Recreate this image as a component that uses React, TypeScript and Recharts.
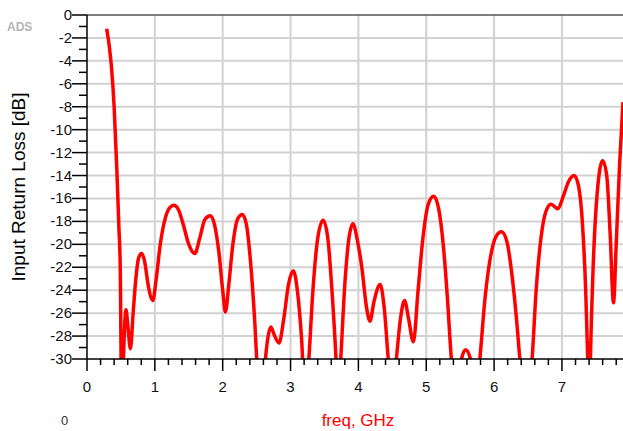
import { LineChart, Line, XAxis, YAxis, CartesianGrid, ReferenceLine, Label } from "recharts"

// S11 sweep (values under -30 dB are clipped by the axis)
const freqGHz = [
  0.29, 0.33, 0.36, 0.4, 0.44, 0.47, 0.49, 0.51, 0.53, 0.56, 0.575, 0.6, 0.64, 0.68, 0.72, 0.76,
  0.805, 0.85, 0.9, 0.97, 1.02, 1.08, 1.15, 1.22, 1.28, 1.35, 1.42, 1.5, 1.59, 1.66, 1.74, 1.82,
  1.88, 1.94, 2.0, 2.04, 2.09, 2.15, 2.22, 2.29, 2.35, 2.41, 2.47, 2.52, 2.57, 2.63, 2.67, 2.71,
  2.76, 2.83, 2.9, 2.97, 3.04, 3.1, 3.16, 3.22, 3.27, 3.33, 3.4, 3.48, 3.55, 3.61, 3.67, 3.7,
  3.74, 3.8, 3.86, 3.92, 3.98, 4.05, 4.12, 4.17, 4.23, 4.32, 4.38, 4.44, 4.5, 4.56, 4.62, 4.68,
  4.74, 4.81, 4.88, 4.95, 5.03, 5.11, 5.18, 5.25, 5.31, 5.37, 5.45, 5.52, 5.58, 5.65, 5.72, 5.79,
  5.87, 5.95, 6.03, 6.11, 6.19, 6.26, 6.33, 6.38, 6.47, 6.56, 6.62, 6.69, 6.76, 6.84, 6.94, 7.02,
  7.1, 7.18, 7.24, 7.3, 7.35, 7.38, 7.4, 7.42, 7.46, 7.52, 7.6, 7.66, 7.71, 7.76, 7.8, 7.85, 7.9,
]
const returnLossDb = [
  -1.2, -2.8, -4.5, -8.0, -13.5, -18.5, -22, -33, -31, -26.5, -25.7, -27, -29.1, -26, -23, -21.2,
  -20.8, -21.5, -23.5, -24.9, -23, -20, -17.8, -16.8, -16.6, -17, -18.3, -20, -20.8, -19.5, -17.8, -17.5,
  -18.3, -20.5, -24, -25.9, -23.5, -20, -17.8, -17.4, -18.3, -21.5, -26.5, -32, -35, -30, -28, -27.2,
  -27.9, -28.6, -26.5, -23.5, -22.3, -24, -28, -34, -30, -24, -19.5, -17.9, -19.5, -24, -30, -34,
  -30, -23.5, -19.5, -18.2, -19.5, -22, -25.5, -26.7, -25, -23.5, -25.5, -30, -34, -30, -26.5, -24.9,
  -26.5, -28.5, -24, -19.5, -16.5, -15.8, -16.8, -20, -24.5, -30, -34, -30, -29.2, -30, -34, -30,
  -24.5, -21, -19.3, -18.9, -19.8, -22.5, -26.5, -30, -34, -30, -24, -19.5, -17.2, -16.5, -16.9, -15.8,
  -14.5, -14.0, -14.8, -18, -24, -30, -36, -30, -22, -15.5, -12.7, -14, -19, -25.1, -20, -13, -7.6,
]

const xTicks = Array.from({ length: 40 }, (_, i) => Number((i * 0.2).toFixed(1)))
const yTicks = Array.from({ length: 31 }, (_, i) => -i)
const gridX = [1, 2, 3, 4, 5, 6, 7]
const gridY = [-2, -4, -6, -8, -10, -12, -14, -16, -18, -20, -22, -24, -26, -28]

const data = freqGHz.map((f, i) => ({ freq: f, s11: returnLossDb[i] }))

const FONT = "'Liberation Sans', Arial, sans-serif"

const isWhole = (v: number, step: number) => Math.abs(v / step - Math.round(v / step)) < 1e-6

function XTick(props: any) {
  const { x, y, payload } = props
  const major = isWhole(payload.value, 1)
  return (
    <g>
      <line x1={x} x2={x} y1={y} y2={y + (major ? 12 : 6)} stroke="#000" strokeWidth={1.5} />
      {major && (
        <text x={x} y={y + 33} textAnchor="middle" fontSize={15} fill="#111" fontFamily={FONT}>
          {Math.round(payload.value)}
        </text>
      )}
    </g>
  )
}

function YTick(props: any) {
  const { x, y, payload } = props
  const major = isWhole(payload.value, 2)
  return (
    <g>
      <line x1={x - (major ? 15 : 8)} x2={x} y1={y} y2={y} stroke="#000" strokeWidth={1.5} />
      {major && (
        <text x={x - 15} y={y} dy={5} textAnchor="end" fontSize={15} fill="#111" fontFamily={FONT}>
          {payload.value}
        </text>
      )}
    </g>
  )
}

function YTitle(props: any) {
  const vb = props.viewBox
  const cx = vb.x + 18
  const cy = vb.y + vb.height / 2
  return (
    <text
      x={cx}
      y={cy}
      transform={`rotate(-90 ${cx} ${cy})`}
      textAnchor="middle"
      dominantBaseline="central"
      fontSize={19}
      fill="#000"
      fontFamily={FONT}
    >
      Input Return Loss [dB]
    </text>
  )
}

export default function App() {
  return (
    <div style={{ position: "absolute", left: 0, top: 0, width: 623, height: 431, overflow: "hidden", background: "#fff" }}>
      <div style={{ position: "absolute", left: 7, top: 20, fontFamily: FONT, fontWeight: "bold", fontSize: 12, color: "#b4b4b4" }}>
        ADS
      </div>
      <div style={{ position: "absolute", left: 61, top: 414, fontFamily: FONT, fontSize: 13, lineHeight: "14px", color: "#333" }}>0</div>
      <LineChart
        width={623}
        height={431}
        data={data}
        margin={{ top: 15, right: 0, left: 0, bottom: 0 }}
        style={{ fontFamily: FONT }}
      >
        <CartesianGrid
          horizontalValues={gridY}
          verticalValues={gridX}
          stroke="#d2d2d2"
          strokeWidth={2}
        />
        <ReferenceLine y={0} stroke="#555" strokeWidth={1.5} />
        <XAxis
          dataKey="freq"
          type="number"
          domain={[0, 7.9]}
          allowDataOverflow
          ticks={xTicks}
          interval={0}
          tick={<XTick />}
          tickLine={false}
          tickSize={0}
          tickMargin={0}
          height={72}
          axisLine={{ stroke: "#000", strokeWidth: 1.5 }}
        >
          <Label value="freq, GHz" position="insideBottom" offset={5} dx={3} fill="#ff0000" fontSize={17} />
        </XAxis>
        <YAxis
          type="number"
          domain={[-30, 0]}
          allowDataOverflow
          ticks={yTicks}
          interval={0}
          tick={<YTick />}
          tickLine={false}
          tickSize={0}
          tickMargin={0}
          width={87}
          axisLine={{ stroke: "#000", strokeWidth: 1.5 }}
        >
          <Label content={YTitle} />
        </YAxis>
        <Line
          type="monotone"
          dataKey="s11"
          stroke="#ff0000"
          strokeWidth={3.5}
          dot={false}
          activeDot={false}
          isAnimationActive={false}
        />
      </LineChart>
    </div>
  )
}
